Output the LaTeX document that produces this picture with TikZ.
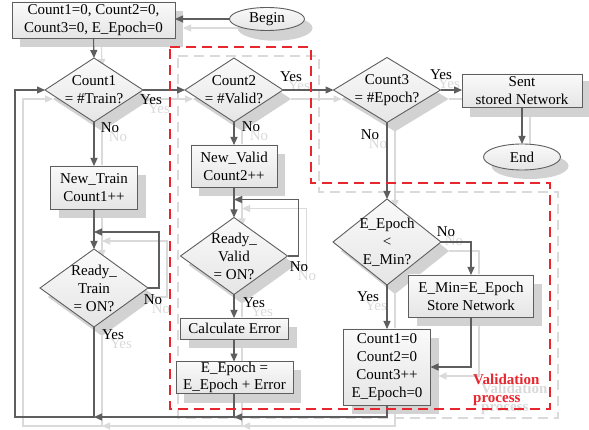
\documentclass[tikz,border=0pt]{standalone}
\usepackage{fontspec}
\setmainfont{Liberation Serif}
\usetikzlibrary{shapes.geometric,arrows.meta,calc}

\definecolor{linec}{HTML}{5E5E5E}
\definecolor{shadowc}{HTML}{D2D2D2}
\definecolor{ghostc}{HTML}{DADADA}
\definecolor{procred}{HTML}{E8262E}

\tikzset{
  base/.style={inner sep=0pt, outer sep=0pt, align=center,
    font=\fontsize{15}{18}\selectfont},
  procbox/.style={base, rectangle, draw=linec, line width=0.9pt,
    top color=black!2, bottom color=black!10},
  decision/.style={base, diamond, draw=linec, line width=0.9pt,
    top color=black!2, bottom color=black!10},
  terminal/.style={base, ellipse, draw=linec, line width=0.9pt,
    top color=black!2, bottom color=black!10},
  dtext/.style={base},
  conn/.style={draw=linec, line width=1.1pt,
    -{Triangle[length=8pt,width=7pt]}},
  lbl/.style={base, text depth=0pt},
  vbox/.style={draw=procred, line width=1.3pt, dash pattern=on 10pt off 6pt},
  vtext/.style={inner sep=0pt, align=left, text=procred,
    font=\fontsize{15}{18}\selectfont\bfseries},
}

% text inside a shape; the shadow copy keeps only its size
\newcommand\intext[1]{#1}

% The whole flow chart; drawn twice (shadow copy, then the real one)
\newcommand\drawflow{%
  % nodes
  \node[procbox, minimum width=163pt, minimum height=36pt] (init) at (93.5,20)
    {\intext{Count1=0, Count2=0,\\Count3=0, E\_Epoch=0}};
  \node[terminal, minimum width=75pt, minimum height=23pt] (begin) at (267,19)
    {\intext{Begin}};
  \node[decision, minimum width=98pt, minimum height=64pt] (c1) at (94,90) {};
  \node[dtext] (c1t) at (c1) {\intext{Count1\\= \#Train?}};
  \node[decision, minimum width=98pt, minimum height=64pt] (c2) at (234,90) {};
  \node[dtext] (c2t) at (c2) {\intext{Count2\\= \#Valid?}};
  \node[decision, minimum width=107pt, minimum height=65pt] (c3) at (387,90) {};
  \node[dtext] (c3t) at (c3) {\intext{Count3\\= \#Epoch?}};
  \node[procbox, minimum width=120pt, minimum height=33pt] (sent) at (522,90.5)
    {\intext{Sent\\stored Network}};
  \node[terminal, minimum width=77pt, minimum height=26pt] (endn) at (522,157)
    {\intext{End}};
  \node[procbox, minimum width=87pt, minimum height=43pt] (ntrain) at (94,187.5)
    {\intext{New\_Train\\Count1++}};
  \node[decision, minimum width=108pt, minimum height=78pt] (rtrain) at (94,288) {};
  \node[dtext] (rtraint) at (rtrain) {\intext{Ready\_\\Train\\= ON?}};
  \node[procbox, minimum width=86pt, minimum height=42pt] (nvalid) at (234,166)
    {\intext{New\_Valid\\Count2++}};
  \node[decision, minimum width=107pt, minimum height=77pt] (rvalid) at (234,256) {};
  \node[dtext] (rvalidt) at (rvalid) {\intext{Ready\_\\Valid\\= ON?}};
  \node[procbox, minimum width=108pt, minimum height=21pt] (calc) at (234.5,328.5)
    {\intext{Calculate Error}};
  \node[procbox, minimum width=117pt, minimum height=32pt,
    font=\fontsize{15}{16.5}\selectfont] (eep) at (234.5,377.5)
    {\intext{E\_Epoch =\\E\_Epoch + Error}};
  \node[decision, minimum width=108pt, minimum height=86pt] (ee) at (387,242) {};
  \node[dtext] (eet) at (ee) {\intext{E\_Epoch\\<\\E\_Min?}};
  \node[procbox, minimum width=125pt, minimum height=42pt] (emin) at (471,296)
    {\intext{E\_Min=E\_Epoch\\Store Network}};
  \node[procbox, minimum width=87pt, minimum height=76pt] (cnt) at (387,367)
    {\intext{Count1=0\\Count2=0\\Count3++\\E\_Epoch=0}};
  \coordinate (loopL) at (15,417);
  % connectors
  \draw[conn] (begin.west) -- (begin.west -| init.east);
  \draw[conn] (init.south) -- (c1.north);
  \draw[conn] (c1.east) -- (c2.west);
  \draw[conn] (c2.east) -- (c3.west);
  \draw[conn] (c3.east) -- (c3.east -| sent.west);
  \draw[conn] (sent.south) -- (endn.north);
  \draw[conn] (c1.south) -- (ntrain.north);
  \draw[conn] (c2.south) -- (nvalid.north);
  \draw[conn] (c3.south) -- (ee.north);
  \draw[conn] (ntrain.south) -- (rtrain.north);
  \draw[conn] (rtrain.east) -- ++(11,0) |- ([yshift=17pt]rtrain.north);
  \draw[conn] (rtrain.south) |- (loopL) |- (c1.west);
  \draw[conn] (nvalid.south) -- (rvalid.north);
  \draw[conn] (rvalid.east) -- ++(11,0) |- ([yshift=18pt]rvalid.north);
  \draw[conn] (rvalid.south) -- (calc.north -| rvalid.south);
  \draw[conn] (calc.south -| rvalid.south) -- (eep.north -| rvalid.south);
  \draw[conn] (eep.south -| rvalid.south) |- (rtrain.south |- loopL);
  \draw[conn] (cnt.south) |- (rvalid.south |- loopL);
  \draw[conn] (ee.east) -| (emin.north);
  \draw[conn] (ee.south) -- (cnt.north);
  \draw[conn] (emin.south) |- (cnt.east);
  % branch labels
  \node[lbl] (y1) at (151,100) {Yes};
  \node[lbl] (y2) at (291,77) {Yes};
  \node[lbl] (y3) at (441,75) {Yes};
  \node[lbl] (n1) at (110,128) {No};
  \node[lbl] (n2) at (251,127) {No};
  \node[lbl] (n3) at (370,135) {No};
  \node[lbl] (n4) at (153,300) {No};
  \node[lbl] (y4) at (113,335) {Yes};
  \node[lbl] (n5) at (299,267) {No};
  \node[lbl] (y5) at (254,303) {Yes};
  \node[lbl] (n6) at (446,232) {No};
  \node[lbl] (y6) at (368,297) {Yes};
  % validation region
  \draw[vbox] (170,47) -- (311,47) -- (311,183) -- (550,183) -- (550,409)
    -- (170,409) -- cycle;
  \node[vtext, anchor=west] (vt) at (473,390) {Validation\\process};
}

\begin{document}
\begin{tikzpicture}[x=1pt, y=-1pt]
  \useasboundingbox[fill=white] (0,0) rectangle (589,430);
  % drop-shadow copy
  \begin{scope}[shift={(8,9)}, name prefix=g-,
      procbox/.style={base, rectangle, fill=shadowc},
      decision/.style={base, diamond, fill=shadowc},
      terminal/.style={base, ellipse, fill=shadowc},
      dtext/.style={base},
      conn/.style={draw=ghostc, line width=1.1pt,
        -{Triangle[length=8pt,width=7pt]}},
      lbl/.style={base, text depth=0pt, text=ghostc},
      vbox/.style={draw=ghostc, line width=1.3pt, dash pattern=on 10pt off 6pt},
      vtext/.style={inner sep=0pt, align=left, text=ghostc,
        font=\fontsize{15}{18}\selectfont\bfseries}]
    \renewcommand\intext[1]{\phantom{\begin{tabular}{@{}c@{}}#1\end{tabular}}}%
    \drawflow
  \end{scope}
  % main chart
  \drawflow
\end{tikzpicture}
\end{document}
